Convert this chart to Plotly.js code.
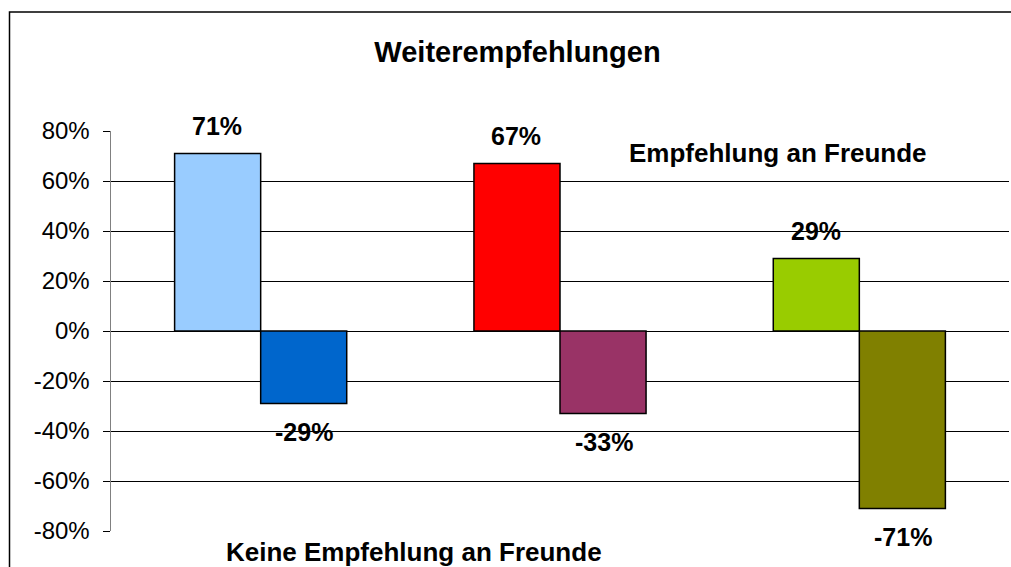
<!DOCTYPE html>
<html>
<head>
<meta charset="utf-8">
<script src="https://cdn.plot.ly/plotly-3.0.1.min.js"></script>
<style>html,body{margin:0;padding:0;background:#fff;}#chart{width:1011px;height:567px;}</style>
</head>
<body>
<div id="chart"></div>
<script>
var categories = ["Gruppe 1", "Gruppe 2", "Gruppe 3"];
var empfehlung = [71, 67, 29];
var keineEmpfehlung = [-29, -33, -71];
var colorsEmpfehlung = ["#99CCFF", "#FF0000", "#99CC00"];
var colorsKeine = ["#0066CC", "#993366", "#808000"];
var tickVals = [-80, -60, -40, -20, 0, 20, 40, 60, 80];
var tickText = ["-80%", "-60%", "-40%", "-20%", "0%", "20%", "40%", "60%", "80%"];

var FONT = "Liberation Sans, Arial, sans-serif";
var barOffset = 0.1455;

var traces = [
  {type: "bar", x: categories, y: empfehlung, marker: {color: colorsEmpfehlung, line: {color: "#000", width: 1.5}}, hoverinfo: "y"},
  {type: "bar", x: categories, y: keineEmpfehlung, marker: {color: colorsKeine, line: {color: "#000", width: 1.5}}, hoverinfo: "y"}
];

var annotations = [];
categories.forEach(function (c, i) {
  annotations.push({x: i - barOffset, y: empfehlung[i], xref: "x", yref: "y", xanchor: "center", yanchor: "middle", text: "<b>" + empfehlung[i] + "%</b>", showarrow: false, yshift: 28, font: {family: FONT, size: 25, color: "#000"}});
  annotations.push({x: i + barOffset, y: keineEmpfehlung[i], xref: "x", yref: "y", xanchor: "center", yanchor: "middle", text: "<b>" + keineEmpfehlung[i] + "%</b>", showarrow: false, yshift: -28, font: {family: FONT, size: 25, color: "#000"}});
});
annotations.push({xref: "paper", yref: "paper", xanchor: "center", yanchor: "middle", x: (777.5 - 111) / 898, y: (531 - 153) / 400, text: "<b>Empfehlung an Freunde</b>", showarrow: false, font: {family: FONT, size: 26, color: "#000"}});
annotations.push({xref: "paper", yref: "paper", xanchor: "center", yanchor: "middle", x: (413.5 - 111) / 898, y: (531 - 552) / 400, text: "<b>Keine Empfehlung an Freunde</b>", showarrow: false, font: {family: FONT, size: 26, color: "#000"}});

var layout = {
  width: 1011, height: 567,
  margin: {l: 111, r: 2, t: 131, b: 36, pad: 0},
  paper_bgcolor: "#fff", plot_bgcolor: "#fff",
  showlegend: false,
  barmode: "group",
  bargap: 0.425,
  bargroupgap: 0,
  title: {text: "<b>Weiterempfehlungen</b>", x: 517.5 / 1011, xanchor: "center", y: 1 - 52 / 567, yanchor: "middle", font: {family: FONT, size: 29, color: "#000"}},
  xaxis: {showticklabels: false, showgrid: false, zeroline: false, showline: false, ticks: "", fixedrange: true},
  yaxis: {range: [-80, 80], tickvals: tickVals, ticktext: tickText, showgrid: true, gridcolor: "#000", gridwidth: 1, zeroline: false,
    showline: true, linecolor: "#808080", linewidth: 1.5, ticks: "outside", ticklen: 7, tickcolor: "#000", tickwidth: 1,
    ticklabelstandoff: 8,
    tickfont: {family: FONT, size: 24, color: "#000"}, fixedrange: true},
  annotations: annotations,
  shapes: [{type: "rect", xref: "paper", yref: "paper", x0: (9.5 - 111) / 898, x1: (1014 - 111) / 898, y0: (531 - 575) / 400, y1: (531 - 12) / 400, line: {color: "#000", width: 1.5}, fillcolor: "rgba(0,0,0,0)", layer: "above"}]
};

Plotly.newPlot("chart", traces, layout, {displayModeBar: false, staticPlot: true});
</script>
</body>
</html>
